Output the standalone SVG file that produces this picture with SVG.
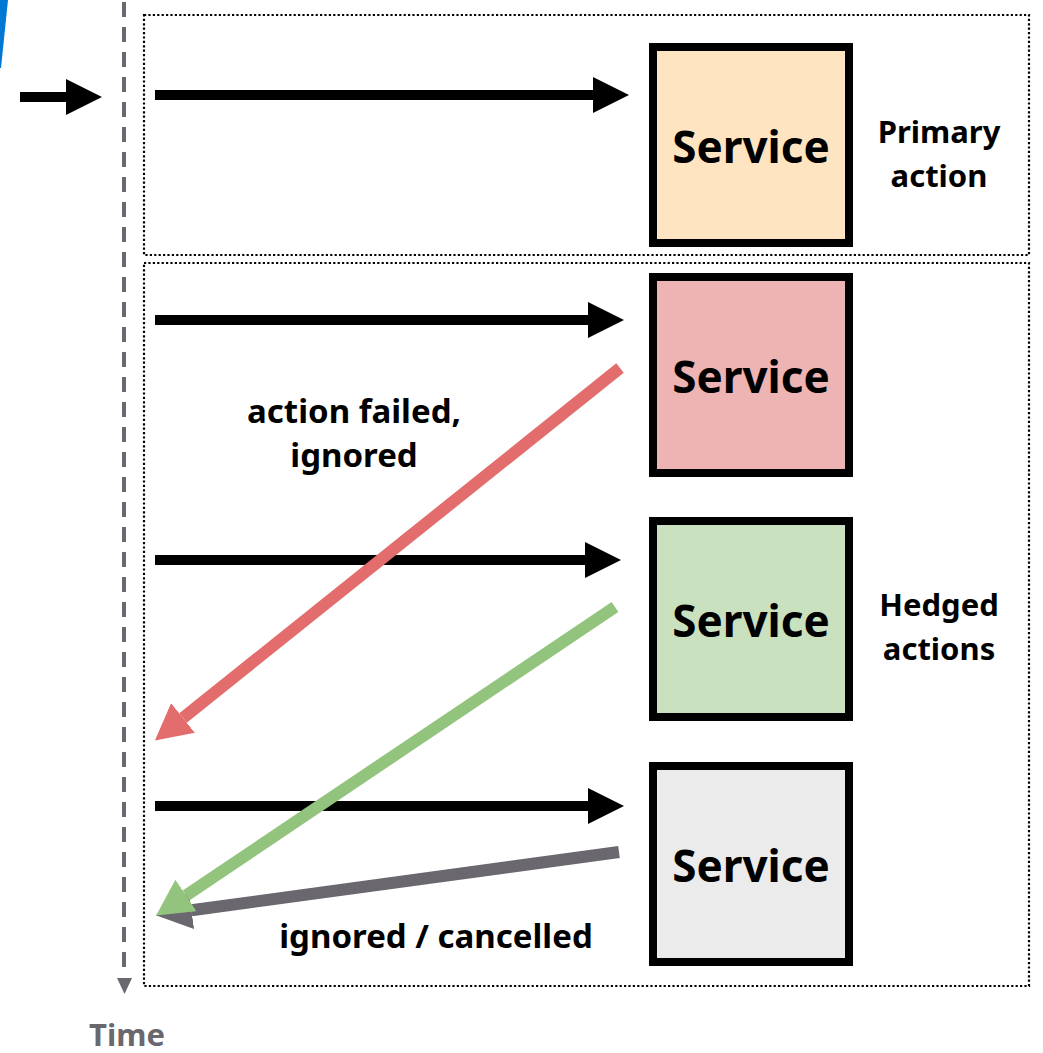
<svg xmlns="http://www.w3.org/2000/svg" width="1043" height="1053" viewBox="0 0 1043 1053">
<defs>
<style>
.frame{fill:none;stroke:#000;stroke-width:2.2;stroke-dasharray:2.2 2.2}
.svc rect{stroke:#000;stroke-width:8}
.svc text{font-family:"Noto Sans","Open Sans",sans-serif;font-weight:bold;font-size:44px;text-anchor:middle;fill:#000}
.lbl{font-family:"Noto Sans","Open Sans",sans-serif;font-weight:bold;font-size:31px;text-anchor:middle;fill:#000}
.lbl2{font-family:"Noto Sans","Open Sans",sans-serif;font-weight:bold;font-size:33px;text-anchor:middle;fill:#000}
.blk{stroke:#000;stroke-width:10;fill:none;marker-end:url(#hb)}
.red{stroke:#E36C6C;stroke-width:12;fill:none;marker-end:url(#hr)}
.grn{stroke:#93C47D;stroke-width:12;fill:none;marker-end:url(#hg)}
.gry{stroke:#6A676E;stroke-width:12;fill:none;marker-end:url(#hy)}
</style>
<marker id="hb" markerUnits="userSpaceOnUse" markerWidth="36" markerHeight="36" refX="0" refY="18" orient="auto"><path d="M0,0L36,18L0,36z" fill="#000"/></marker>
<marker id="hr" markerUnits="userSpaceOnUse" markerWidth="36" markerHeight="38" refX="0" refY="19" orient="auto"><path d="M0,0L36,19L0,38z" fill="#E36C6C"/></marker>
<marker id="hg" markerUnits="userSpaceOnUse" markerWidth="36" markerHeight="38" refX="0" refY="19" orient="auto"><path d="M0,0L36,19L0,38z" fill="#93C47D"/></marker>
<marker id="hy" markerUnits="userSpaceOnUse" markerWidth="36" markerHeight="38" refX="0" refY="19" orient="auto"><path d="M0,0L36,19L0,38z" fill="#6A676E"/></marker>
</defs>
<rect width="1043" height="1053" fill="#fff"/>
<polygon points="0,0 8,0 1,68 0,68" fill="#0078D4"/>
<g id="time-axis">
<line x1="124" y1="2" x2="124" y2="972" stroke="#6A676E" stroke-width="4" stroke-dasharray="15 10"/>
<polygon points="117,978 132,978 124.5,994" fill="#6A676E"/>
<text x="127" y="1046" font-family="Noto Sans,Open Sans,sans-serif" font-weight="bold" font-size="31" text-anchor="middle" fill="#6A676E">Time</text>
</g>
<g id="frames">
<rect class="frame" x="144" y="15" width="885" height="240"/>
<rect class="frame" x="144" y="263" width="885" height="723"/>
</g>
<g id="svc1" class="svc"><rect x="653" y="47" width="196" height="196" fill="#FFE4C1"/><text x="751" y="163">Service</text></g>
<g id="svc2" class="svc"><rect x="653" y="277" width="196" height="196" fill="#EEB3B3"/><text x="751" y="393">Service</text></g>
<g id="svc3" class="svc"><rect x="653" y="521" width="196" height="196" fill="#C9E1BF"/><text x="751" y="637">Service</text></g>
<g id="svc4" class="svc"><rect x="653" y="766" width="196" height="196" fill="#EBEBEB"/><text x="751" y="882">Service</text></g>
<g id="labels">
<text class="lbl" x="939" y="143">Primary</text>
<text class="lbl" x="939" y="187">action</text>
<text class="lbl" x="939" y="616">Hedged</text>
<text class="lbl" x="939" y="660">actions</text>
<text class="lbl2" x="354" y="423">action failed,</text>
<text class="lbl2" x="354" y="467">ignored</text>
<text class="lbl2" x="436" y="948">ignored / cancelled</text>
</g>
<g id="connectors">
<line class="blk" x1="20" y1="97" x2="66" y2="97"/>
<line class="blk" x1="155" y1="95" x2="593" y2="95"/>
<line class="blk" x1="155" y1="320" x2="588" y2="320"/>
<line class="blk" x1="155" y1="560" x2="585" y2="560"/>
<line class="blk" x1="155" y1="806" x2="588" y2="806"/>
<line class="red" x1="620" y1="368" x2="183" y2="718"/>
<line class="gry" x1="619" y1="852" x2="191.5" y2="910.3"/>
<line class="grn" x1="615" y1="607" x2="186" y2="895.5"/>
</g>
</svg>
